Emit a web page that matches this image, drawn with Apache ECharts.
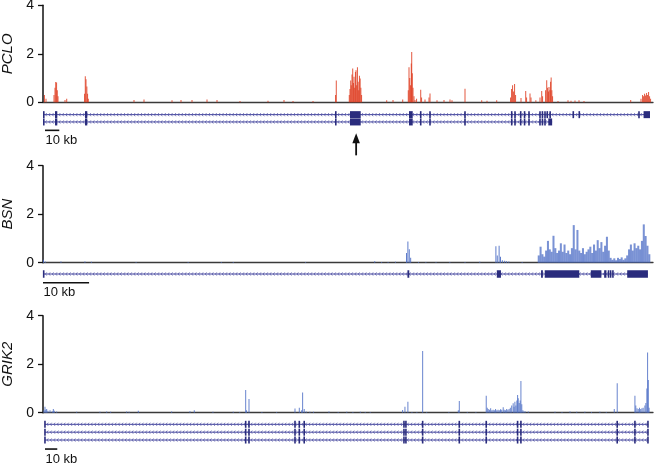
<!DOCTYPE html>
<html><head><meta charset="utf-8">
<script src="https://cdn.jsdelivr.net/npm/echarts@6/dist/echarts.min.js"></script>
<style>html,body{margin:0;padding:0;background:#fff}#c{width:655px;height:465px}</style>
</head><body><div id="c"></div>
<script>
// ---------------- DATA ----------------
const yTicks = [0, 2, 4];
const geneNames = ['PCLO', 'BSN', 'GRIK2'];
const geneSpanKb = [427, 132.4, 496];
const scaleBarKb = 10;
const scaleBarStartKb = [1.4, 0, 1.6];
const arrowKb = 219.2; // arrow under the large PCLO exon

// coverage: [position kb, value]
const pcloCoverage = [
  [1.0,0.3],[2.1,0.15],
  [7.7,0.3],[8.4,0.6],[8.9,0.84],[9.5,0.82],[10.0,0.5],[10.5,0.25],
  [15.4,0.1],[16.6,0.15],
  [29.1,0.35],[29.6,1.07],[30.1,0.95],[30.7,0.65],[31.2,0.35],[31.7,0.15],
  [63.7,0.1],[70.7,0.12],[90.3,0.08],[96.6,0.1],[104.3,0.1],[114.8,0.12],[121.8,0.1],
  [137.9,0.05],[157.5,0.06],[168.7,0.1],[175.0,0.05],[189.0,0.05],
  [204.8,0.3],[205.3,0.9],
  [214.4,0.3],[214.9,0.55],[215.4,0.9],[215.8,0.7],[216.3,1.15],[216.8,1.39],[217.3,0.8],
  [217.7,1.05],[218.2,0.6],[218.7,1.25],[219.1,1.32],[219.6,0.7],[220.1,1.45],[220.6,0.85],
  [221.0,0.5],[221.5,1.1],[222.0,0.98],[222.5,0.6],[223.0,0.3],
  [240.6,0.08],[245.0,0.1],[251.8,0.12],
  [255.7,0.5],[256.2,1.45],[256.7,1.0],[257.3,0.7],[257.8,1.6],[258.1,2.07],[258.5,1.2],[259.0,0.6],[259.7,0.25],
  [260.4,0.1],[261.5,0.15],[264.4,0.52],[265.0,0.2],[267.4,0.12],[270.2,0.2],[270.9,0.36],
  [275.8,0.08],[280.7,0.1],[284.9,0.12],[286.3,0.08],
  [295.4,0.56],
  [307.1,0.08],[310.8,0.06],[317.6,0.08],
  [327.3,0.2],[328.0,0.55],[328.7,0.7],[329.4,0.45],[330.1,0.75],[330.8,0.3],
  [334.6,0.18],[337.9,0.47],[338.5,0.2],[340.9,0.36],[341.6,0.2],[345.0,0.08],
  [347.9,0.2],[349.1,0.47],[349.7,0.25],
  [351.8,0.5],[352.6,0.91],[353.2,0.6],[353.8,0.45],[354.2,0.63],[354.8,0.5],[355.3,0.85],[355.7,1.02],[356.2,0.5],[356.7,0.25],
  [360.5,0.05],[367.5,0.08],[369.6,0.06],[372.4,0.07],[375.2,0.08],[378.7,0.05],
  [411.4,0.1],
  [418.6,0.15],[419.7,0.3],[420.4,0.25],[421.1,0.35],[421.8,0.28],[422.5,0.38],[423.2,0.3],[423.9,0.42],[424.6,0.25],[425.3,0.15]
];

const bsnCoverage = [
  [0.1,0.12],[0.5,0.05],[3.9,0.05],[9.1,0.05],[10.5,0.04],[20.2,0.03],[31.5,0.03],[38.7,0.03],[41.3,0.03],[57.0,0.03],
  [72.0,0.06],[73.5,0.03],[74.9,0.03],[76.5,0.04],
  [78.9,0.4],[79.2,0.87],[79.5,0.55],[79.8,0.2],
  [81.5,0.03],[83.1,0.03],[85.3,0.03],[88.3,0.03],[91.6,0.03],[94.8,0.04],
  [98.3,0.68],[98.6,0.3],[99.0,0.7],[99.3,0.25],[99.7,0.1],[100.2,0.08],[100.6,0.06],[101.1,0.05],[104.0,0.03]
];
// dense 3' region of BSN, binned coverage
const bsnDenseStartKb = 107.6;
const bsnDenseBinKb = 0.4;
const bsnDenseValues = [
  0.3,0.66,0.35,0.25,0.5,0.9,0.55,0.45,1.11,0.6,
  0.4,0.5,0.8,0.45,0.75,0.4,0.5,0.35,0.6,1.55,
  0.55,1.35,0.5,0.4,0.6,0.35,0.45,0.55,0.66,0.4,
  0.75,0.5,0.93,0.6,0.85,0.45,0.7,1.07,0.5,0.2,
  0.12,0.18,0.1,0.2,0.15,0.22,0.12,0.18,0.3,0.55,
  0.75,0.5,0.8,0.6,0.7,0.55,0.9,1.58,1.1,0.7,0.35
];

const grik2Coverage = [
  [0.8,0.1],[1.6,0.25],[2.3,0.12],[3.0,0.15],[4.0,0.08],[5.7,0.1],[7.5,0.06],[8.4,0.15],[9.2,0.08],[11.1,0.05],
  [27.4,0.04],[46.3,0.04],[51.8,0.05],[55.0,0.04],[68.0,0.05],[70.0,0.04],[77.5,0.08],[104.6,0.05],[119.5,0.06],[123.0,0.1],
  [138.2,0.04],[154.7,0.04],[160.0,0.03],
  [164.8,0.94],[165.5,0.1],[167.5,0.56],[178.0,0.03],[190.0,0.03],
  [204.9,0.17],[208.4,0.2],[210.3,0.1],[211.1,0.83],[212.4,0.15],[214.0,0.05],[217.0,0.04],[220.0,0.04],
  [232.5,0.05],[240.0,0.03],[247.0,0.04],[252.0,0.03],[258.0,0.04],[262.0,0.03],[266.0,0.03],
  [292.4,0.11],[294.3,0.25],[296.7,0.45],[300.0,0.03],[304.0,0.03],
  [308.7,2.54],[312.0,0.03],[330.0,0.03],[337.7,0.1],[338.5,0.48],[345.0,0.03],[352.0,0.03],
  [360.4,0.7],[361.2,0.2],[362.0,0.15],[363.0,0.12],[364.0,0.18],[365.0,0.1],[366.0,0.12],[367.0,0.1],[368.0,0.15],
  [369.0,0.1],[370.0,0.12],[371.0,0.1],[372.0,0.14],[373.0,0.12],[374.2,0.22],[375.0,0.12],[376.0,0.1],[377.0,0.15],
  [378.0,0.12],[379.0,0.15],[380.0,0.2],[381.1,0.3],[382.3,0.39],[383.0,0.25],[383.7,0.45],[384.5,0.3],[385.3,0.5],
  [385.9,0.73],[386.4,0.6],[387.2,0.4],[388.0,0.5],[388.6,1.31],[389.3,0.35],[390.2,0.1],[391.0,0.05],[392.0,0.06],[394.6,0.05],
  [416.3,0.04],[422.0,0.03],[428.5,0.05],[434.0,0.04],[440.6,0.04],[446.0,0.03],[452.8,0.04],[458.0,0.03],
  [464.5,0.15],[466.9,1.21],
  [481.3,0.7],[482.0,0.3],[483.0,0.18],[484.0,0.15],[485.0,0.2],[486.0,0.15],[487.0,0.18],[488.0,0.2],
  [489.4,0.3],[490.2,0.4],[491.0,1.0],[491.6,2.48],[492.2,1.35],[492.8,0.2]
];

// gene models: transcripts [start kb, end kb, row], exons [start kb, end kb]
const pcloTranscripts = [[0.3, 424.9, 0], [0.3, 356.4, 1]];
const pcloExonsShared = [
  [0.2,0.9],[8.4,10.0],[29.4,31.0],[204.6,205.3],[214.9,222.4],[256.2,258.8],[264.1,264.7],[270.6,271.2],
  [295.1,295.7],[327.8,328.4],[330.1,330.7],[334.1,334.7],[336.8,337.4],[339.9,340.5],[347.6,348.2],[349.3,349.9],[351.1,351.7]
];
const pcloExonsRow0 = [[352.7,353.3],[354.7,355.3],[370.9,371.5],[375.1,375.7],[416.9,417.5],[420.4,424.9]];
const pcloExonsRow1 = [[353.7,356.4]];

const bsnTranscripts = [[0.1, 131.3, 0]];
const bsnExons = [
  [0.0,0.3],[79.1,79.5],[98.5,99.4],[108.1,108.5],[108.9,116.4],[118.9,121.2],[121.8,122.3],
  [122.6,122.9],[123.1,123.3],[123.6,123.8],[126.8,131.3]
];

const grik2Transcripts = [[1.6, 492.2, 0], [1.6, 492.2, 1], [1.6, 492.2, 2]];
const grik2ExonsShared = [
  [1.4,1.8],[164.6,165.0],[167.3,167.7],[204.7,205.1],[208.2,208.6],[212.2,212.6],[293.3,293.7],[294.9,295.3],
  [308.5,308.9],[338.3,338.7],[360.2,360.6],[385.7,386.1],[388.4,388.8],[466.7,467.1],[481.1,481.5],[491.4,492.4]
];

// ---------------- BUILD ----------------
const FONT = '"Liberation Sans", Arial, Helvetica, sans-serif';
const RED = '#de3b1f';
const BLUE = '#4d6ec5';
const NAVY = '#2a2c7d';
const INTRON = '#45479f';

const pcloExons = [];
pcloExonsShared.forEach(e => { pcloExons.push([e[0], e[1], 0]); pcloExons.push([e[0], e[1], 1]); });
pcloExonsRow0.forEach(e => pcloExons.push([e[0], e[1], 0]));
pcloExonsRow1.forEach(e => pcloExons.push([e[0], e[1], 1]));
const bsnExonRows = bsnExons.map(e => [e[0], e[1], 0]);
const grik2Exons = [];
grik2ExonsShared.forEach(e => { for (let r = 0; r < 3; r++) grik2Exons.push([e[0], e[1], r]); });
const bsnDense = bsnDenseValues.map((v, i) => [bsnDenseStartKb + i * bsnDenseBinKb, v]);

// layout
const covTops = [5.3, 165.7, 315.7];
const covH = 97;
const geneGrid = [
  {top: 111.0, rowH: 7.3, rows: 3.5, barRow: 2.15},
  {top: 269.65, rowH: 8.7, rows: 3.0, barRow: 1.0},
  {top: 420.4, rowH: 7.85, rows: 4.0, barRow: 3.15}
];
const LEFT = 43, RIGHT = 2;

const grids = [], xAxes = [], yAxes = [], series = [];
for (let g = 0; g < 3; g++) {
  grids.push({left: LEFT, right: RIGHT, top: covTops[g], height: covH});
  grids.push({left: LEFT, right: RIGHT, top: geneGrid[g].top, height: geneGrid[g].rowH * geneGrid[g].rows});
  xAxes.push({gridIndex: 2*g, type: 'value', min: 0, max: geneSpanKb[g],
    axisLine: {show: true, onZero: true, lineStyle: {color: '#3a3a3a', width: 1.3}},
    axisTick: {show: false}, axisLabel: {show: false}, splitLine: {show: false}});
  xAxes.push({gridIndex: 2*g+1, type: 'value', min: 0, max: geneSpanKb[g], show: false});
  yAxes.push({gridIndex: 2*g, type: 'value', min: yTicks[0], max: yTicks[yTicks.length-1], interval: 2,
    name: geneNames[g], nameLocation: 'middle', nameGap: 27, nameRotate: 90,
    nameTextStyle: {fontStyle: 'italic', fontSize: 15, color: '#111', fontFamily: FONT},
    axisLine: {show: true, lineStyle: {color: '#111', width: 1.5}},
    axisTick: {show: true, length: 5, lineStyle: {color: '#111', width: 1.3}},
    axisLabel: {fontSize: 14, color: '#111', margin: 9, fontFamily: FONT},
    splitLine: {show: false}});
  yAxes.push({gridIndex: 2*g+1, type: 'value', min: -0.5, max: geneGrid[g].rows - 0.5, inverse: true, show: false});
}

function coverageSeries(axisIdx, data, color, binKb, opacity) {
  return {
    type: 'custom', xAxisIndex: axisIdx, yAxisIndex: axisIdx, data: data, z: 2,
    encode: {x: 0, y: 1},
    renderItem: function (params, api) {
      const x = api.value(0), v = api.value(1);
      const p0 = api.coord([x, 0]);
      const p1 = api.coord([x, v]);
      const w = Math.max(1, api.size([binKb, 0])[0]);
      return {type: 'rect', shape: {x: p0[0] - w/2, y: p1[1], width: w, height: p0[1] - p1[1]},
        style: {fill: color, opacity: opacity}};
    }
  };
}

function transcriptSeries(axisIdx, data) {
  return {
    type: 'custom', xAxisIndex: axisIdx, yAxisIndex: axisIdx, data: data, z: 2,
    encode: {x: [0, 1], y: 2},
    renderItem: function (params, api) {
      const a = api.coord([api.value(0), api.value(2)]);
      const b = api.coord([api.value(1), api.value(2)]);
      const y = a[1];
      let d = '';
      for (let px = a[0] + 2; px < b[0] - 2; px += 3.4) {
        d += 'M' + (px + 1.3) + ' ' + (y - 1.6) + 'L' + px + ' ' + y + 'L' + (px + 1.3) + ' ' + (y + 1.6);
      }
      return {type: 'group', children: [
        {type: 'line', shape: {x1: a[0], y1: y, x2: b[0], y2: y}, style: {stroke: INTRON, lineWidth: 1}},
        {type: 'path', shape: {pathData: d || 'M0 0'}, style: {stroke: INTRON, lineWidth: 0.8, fill: null, opacity: 0.85}}
      ]};
    }
  };
}

function exonSeries(axisIdx, data, h) {
  return {
    type: 'custom', xAxisIndex: axisIdx, yAxisIndex: axisIdx, data: data, z: 3,
    encode: {x: [0, 1], y: 2},
    renderItem: function (params, api) {
      const a = api.coord([api.value(0), api.value(2)]);
      const b = api.coord([api.value(1), api.value(2)]);
      let w = b[0] - a[0];
      let x = a[0];
      if (w < 1.6) { x = (a[0] + b[0]) / 2 - 0.8; w = 1.6; }
      return {type: 'rect', shape: {x: x, y: a[1] - h/2, width: w, height: h}, style: {fill: NAVY}};
    }
  };
}

function scaleBarSeries(axisIdx, startKb, row) {
  return {
    type: 'custom', xAxisIndex: axisIdx, yAxisIndex: axisIdx, data: [[startKb, startKb + scaleBarKb, row]], z: 3,
    encode: {x: [0, 1], y: 2}, clip: false,
    renderItem: function (params, api) {
      const a = api.coord([api.value(0), api.value(2)]);
      const b = api.coord([api.value(1), api.value(2)]);
      return {type: 'group', children: [
        {type: 'line', shape: {x1: a[0], y1: a[1], x2: b[0], y2: a[1]}, style: {stroke: '#111', lineWidth: 1.6}},
        {type: 'text', x: a[0] + 0.5, y: a[1] + 3.5, style: {text: scaleBarKb + ' kb', fill: '#111',
          font: '13px ' + FONT, textAlign: 'left', textVerticalAlign: 'top'}}
      ]};
    }
  };
}

for (let g = 0; g < 3; g++) {
  const ci = 2*g, gi = 2*g + 1;
  if (g === 0) {
    series.push(coverageSeries(ci, pcloCoverage, RED, 0.5, 0.85));
    series.push(transcriptSeries(gi, pcloTranscripts));
    series.push(exonSeries(gi, pcloExons, 7));
  } else if (g === 1) {
    series.push(coverageSeries(ci, bsnCoverage, BLUE, 0.2, 0.9));
    series.push(coverageSeries(ci, bsnDense, BLUE, bsnDenseBinKb * 1.1, 0.75));
    series.push(transcriptSeries(gi, bsnTranscripts));
    series.push(exonSeries(gi, bsnExonRows, 7.5));
  } else {
    series.push(coverageSeries(ci, grik2Coverage, BLUE, 0.6, 0.85));
    series.push(transcriptSeries(gi, grik2Transcripts));
    series.push(exonSeries(gi, grik2Exons, 7));
  }
  series.push(scaleBarSeries(gi, scaleBarStartKb[g], geneGrid[g].barRow));
}

// arrow marking the large PCLO exon
series.push({
  type: 'custom', xAxisIndex: 1, yAxisIndex: 1, data: [[arrowKb, geneGrid[0].barRow]], z: 4, clip: false,
  encode: {x: 0, y: 1},
  renderItem: function (params, api) {
    const p = api.coord([api.value(0), api.value(1)]);
    const tip = p[1] + 3;
    return {type: 'group', children: [
      {type: 'line', shape: {x1: p[0], y1: tip + 8, x2: p[0], y2: tip + 22}, style: {stroke: '#111', lineWidth: 1.8}},
      {type: 'polygon', shape: {points: [[p[0], tip], [p[0] - 3.8, tip + 10], [p[0] + 3.8, tip + 10]]}, style: {fill: '#111'}}
    ]};
  }
});

const chart = echarts.init(document.getElementById('c'), null, {renderer: 'canvas'});
chart.setOption({
  animation: false,
  backgroundColor: '#fff',
  textStyle: {fontFamily: FONT},
  grid: grids.map(g => Object.assign({outerBoundsMode: 'none'}, g)),
  xAxis: xAxes,
  yAxis: yAxes,
  series: series
});
</script>
</body></html>
